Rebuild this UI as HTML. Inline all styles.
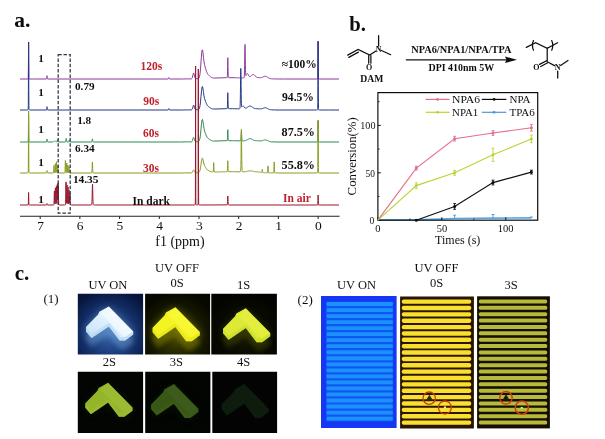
<!DOCTYPE html>
<html><head><meta charset="utf-8"><title>figure</title>
<style>
html,body{margin:0;padding:0;background:#fff;}
body{width:605px;height:439px;position:relative;overflow:hidden;font-family:"Liberation Serif",serif;}
text{font-family:"Liberation Serif",serif;}
</style></head><body>
<svg width="605" height="439" viewBox="0 0 605 439" style="position:absolute;left:0;top:0">
<defs>
<filter id="b1" x="-50%" y="-50%" width="200%" height="200%"><feGaussianBlur stdDeviation="1"/></filter>
<filter id="b2" x="-50%" y="-50%" width="200%" height="200%"><feGaussianBlur stdDeviation="2.2"/></filter>
<filter id="b4" x="-50%" y="-50%" width="200%" height="200%"><feGaussianBlur stdDeviation="4"/></filter>
<filter id="b07" x="-20%" y="-20%" width="140%" height="140%"><feGaussianBlur stdDeviation="0.7"/></filter>
<filter id="b05" x="-20%" y="-20%" width="140%" height="140%"><feGaussianBlur stdDeviation="0.5"/></filter>
<filter id="b03" x="-20%" y="-20%" width="140%" height="140%"><feGaussianBlur stdDeviation="0.35"/></filter>
<radialGradient id="gblue" gradientUnits="userSpaceOnUse" cx="110" cy="334" r="46"><stop offset="0" stop-color="#3e6cac"/><stop offset="0.3" stop-color="#234a8a"/><stop offset="0.65" stop-color="#122c62"/><stop offset="1" stop-color="#07133a"/></radialGradient>
<radialGradient id="gy0" gradientUnits="userSpaceOnUse" cx="177" cy="335" r="42"><stop offset="0" stop-color="#505000"/><stop offset="0.35" stop-color="#2c2e00"/><stop offset="0.7" stop-color="#141600"/><stop offset="1" stop-color="#070800"/></radialGradient>
<radialGradient id="gy1" gradientUnits="userSpaceOnUse" cx="246" cy="334" r="40"><stop offset="0" stop-color="#1a1e00"/><stop offset="0.5" stop-color="#0a0c00"/><stop offset="1" stop-color="#030400"/></radialGradient>
<linearGradient id="lgw" x1="0" y1="1" x2="1" y2="0"><stop offset="0" stop-color="#c2e0f8"/><stop offset="0.6" stop-color="#e6f4fe"/><stop offset="1" stop-color="#fbfdff"/></linearGradient>
</defs>
<g filter="url(#b03)">
<path d="M20.0 79.0L27.3 79.0L27.7 79.0L27.9 78.9L28.0 78.9L28.1 78.8L28.2 78.5L28.3 76.5L28.4 68.3L28.5 52.2L28.6 42.0L28.7 52.2L28.8 68.3L28.9 76.5L29.0 78.5L29.1 78.8L29.2 78.9L29.3 78.9L29.5 79.0L29.9 79.0L33.5 79.0L46.4 79.0L46.5 79.0L46.6 78.8L46.7 78.4L46.8 77.5L46.9 76.3L47.0 75.7L47.1 76.3L47.2 77.5L47.3 78.4L47.4 78.8L47.5 79.0L47.6 79.0L168.1 79.0L168.2 79.0L168.3 78.9L168.4 78.8L168.5 78.6L168.6 78.3L168.7 77.9L168.8 77.6L168.9 77.5L169.0 77.6L169.1 77.9L169.2 78.3L169.3 78.6L169.4 78.8L169.5 78.9L169.6 79.0L169.7 79.0L182.5 79.0L185.5 78.9L187.5 78.9L189.5 78.9L191.0 78.9L191.5 78.8L192.0 78.4L192.5 77.0L193.0 74.6L193.5 72.9L194.0 73.7L194.5 76.1L195.0 77.9L195.5 78.6L196.0 78.7L197.0 78.7L197.5 78.7L198.0 78.7L198.5 78.5L199.0 78.0L199.5 76.8L200.0 73.9L200.5 68.9L201.0 62.0L201.5 55.0L202.0 50.3L202.5 49.8L203.0 52.8L203.5 57.4L204.0 61.5L204.5 64.5L205.0 66.6L205.5 68.3L206.0 69.9L206.5 71.4L207.0 72.7L207.5 73.6L208.0 74.4L208.5 74.9L209.0 75.4L209.5 75.9L210.0 76.3L210.5 76.7L211.0 77.1L211.5 77.4L212.0 77.7L212.5 77.9L213.0 78.0L213.5 78.0L214.0 78.1L216.0 78.0L217.0 78.0L218.0 77.9L219.0 77.9L220.0 77.9L221.0 77.8L222.0 77.8L223.0 77.8L224.0 77.8L225.0 77.7L225.9 77.7L226.5 77.7L226.8 77.7L227.0 77.6L227.1 77.6L227.2 77.5L227.3 76.9L227.4 75.4L227.5 71.9L227.6 66.3L227.7 60.4L227.8 57.7L227.9 60.4L228.0 66.3L228.1 71.9L228.2 75.4L228.3 76.9L228.4 77.5L228.5 77.6L228.6 77.6L228.8 77.7L229.3 77.7L232.0 77.7L234.0 77.7L235.5 77.8L236.5 77.8L237.5 77.8L238.5 77.8L239.5 77.9L240.5 77.9L241.5 77.9L242.5 77.9L243.5 77.9L243.7 77.9L243.8 77.9L243.9 77.8L244.0 77.7L244.1 77.5L244.2 77.1L244.3 76.1L244.4 74.1L244.5 70.6L244.6 65.5L244.7 59.0L244.8 52.1L244.9 46.7L245.0 44.5L245.1 46.5L245.2 51.7L245.3 58.4L245.4 64.7L245.5 69.6L245.6 72.8L245.7 74.6L245.8 75.4L245.9 75.6L246.0 75.5L246.1 75.4L246.2 75.2L246.3 75.0L246.4 74.7L246.5 74.5L246.6 74.3L246.7 74.1L246.8 74.0L246.9 73.8L247.0 73.7L247.1 73.6L247.2 73.6L247.3 73.5L247.4 73.5L247.5 73.6L248.0 74.2L248.5 75.2L249.0 76.1L249.5 76.6L250.0 76.7L250.5 76.4L251.0 75.9L251.5 75.4L252.0 75.0L252.5 74.7L253.0 74.6L253.5 74.7L254.0 74.9L254.5 75.3L255.0 75.8L255.5 76.2L256.0 76.6L256.5 77.0L257.0 77.3L257.5 77.5L258.0 77.6L258.5 77.7L259.0 77.7L259.5 77.7L260.0 77.7L260.5 77.7L261.0 77.6L261.5 77.5L262.0 77.4L262.5 77.2L263.0 77.0L263.5 76.7L264.0 76.5L264.5 76.3L265.0 76.2L265.5 76.3L266.0 76.4L266.5 76.6L267.0 76.9L267.5 77.2L268.0 77.6L268.5 77.9L269.0 78.2L269.5 78.4L270.0 78.6L270.5 78.7L271.0 78.8L271.5 78.8L272.0 78.9L272.5 78.9L273.5 78.9L275.5 78.9L278.5 79.0L283.5 79.0L317.2 79.0L317.4 78.9L317.5 78.9L317.6 78.8L317.7 78.5L317.8 76.4L317.9 68.0L318.0 51.5L318.1 41.0L318.2 51.5L318.3 68.0L318.4 76.4L318.5 78.5L318.6 78.8L318.7 78.9L318.8 78.9L319.0 79.0L319.3 79.0L321.0 79.0L339.0 79.0" fill="none" stroke="#8a3a9a" stroke-width="1.00" stroke-linejoin="round"/>
<path d="M20.0 110.0L26.8 110.0L27.4 110.0L27.6 109.9L27.7 109.9L27.8 109.9L27.9 109.9L28.0 109.8L28.1 109.7L28.2 109.2L28.3 105.4L28.4 90.3L28.5 60.7L28.6 42.0L28.7 60.7L28.8 90.3L28.9 105.4L29.0 109.2L29.1 109.7L29.2 109.8L29.3 109.9L29.4 109.9L29.5 109.9L29.7 109.9L30.0 110.0L30.8 110.0L46.4 110.0L46.5 110.0L46.6 109.8L46.7 109.4L46.8 108.5L46.9 107.3L47.0 106.7L47.1 107.3L47.2 108.5L47.3 109.4L47.4 109.8L47.5 110.0L47.6 110.0L168.1 110.0L168.2 110.0L168.3 109.9L168.4 109.8L168.5 109.6L168.6 109.3L168.7 108.9L168.8 108.6L168.9 108.5L169.0 108.6L169.1 108.9L169.2 109.3L169.3 109.6L169.4 109.8L169.5 109.9L169.6 110.0L169.7 110.0L182.5 110.0L185.5 109.9L187.5 109.9L189.5 109.9L191.0 109.9L191.5 109.8L192.0 109.5L192.5 108.4L193.0 106.5L193.5 105.1L194.0 105.7L194.5 107.7L195.0 109.1L195.5 109.6L196.0 109.7L197.5 109.7L198.0 109.7L198.5 109.6L199.0 109.2L199.5 108.1L200.0 105.9L200.5 101.9L201.0 96.3L201.5 90.7L202.0 87.0L202.5 86.5L203.0 89.0L203.5 92.6L204.0 95.9L204.5 98.3L205.0 99.9L205.5 101.3L206.0 102.6L206.5 103.8L207.0 104.8L207.5 105.6L208.0 106.2L208.5 106.6L209.0 107.0L209.5 107.4L210.0 107.7L210.5 108.0L211.0 108.4L211.5 108.6L212.0 108.8L212.5 108.9L213.0 109.0L213.5 109.0L216.0 109.0L217.0 109.0L218.0 108.9L219.0 108.9L220.0 108.9L221.0 108.8L222.0 108.8L223.0 108.8L224.0 108.8L225.0 108.7L225.9 108.7L226.6 108.7L226.9 108.7L227.0 108.7L227.1 108.6L227.2 108.5L227.3 108.1L227.4 106.9L227.5 104.1L227.6 99.6L227.7 94.9L227.8 92.7L227.9 94.9L228.0 99.6L228.1 104.1L228.2 106.9L228.3 108.1L228.4 108.5L228.5 108.6L228.6 108.6L228.8 108.7L229.5 108.7L232.5 108.7L234.5 108.7L236.0 108.8L237.5 108.8L239.2 108.8L239.4 108.7L239.5 108.7L239.6 108.7L239.7 108.6L239.8 108.5L239.9 108.3L240.0 107.8L240.1 106.5L240.2 104.1L240.3 100.0L240.4 93.8L240.5 85.9L240.6 77.6L240.7 71.1L240.8 68.4L240.9 70.9L241.0 77.3L241.1 85.4L241.2 93.2L241.3 99.2L241.4 103.2L241.5 105.4L241.6 106.5L241.7 106.9L241.8 106.9L241.9 106.9L242.0 106.8L242.1 106.6L242.2 106.5L242.3 106.4L242.4 106.3L242.5 106.1L242.6 106.1L242.7 106.0L242.8 105.9L242.9 105.9L243.1 105.9L243.2 105.9L243.5 106.2L244.0 106.8L244.5 107.5L245.0 108.0L245.5 108.2L246.0 108.1L246.5 107.9L247.0 107.6L247.5 107.2L248.0 106.9L248.5 106.5L249.0 106.3L249.5 106.1L250.0 106.0L250.5 106.1L251.0 106.3L251.5 106.5L252.0 106.9L252.5 107.2L253.0 107.6L253.5 107.9L254.0 108.2L254.5 108.4L255.0 108.5L255.5 108.6L256.0 108.7L256.5 108.7L257.0 108.7L258.0 108.8L258.5 108.8L259.0 108.8L259.5 108.8L260.5 108.9L261.0 108.8L261.5 108.8L262.0 108.6L262.5 108.5L263.0 108.3L263.5 108.1L264.0 107.9L264.5 107.8L265.0 107.7L265.5 107.7L266.0 107.8L266.5 108.0L267.0 108.2L267.5 108.5L268.0 108.8L268.5 109.1L269.0 109.3L269.5 109.5L270.0 109.6L270.5 109.7L271.0 109.8L271.5 109.8L272.0 109.9L273.0 109.9L274.5 109.9L277.0 110.0L281.0 110.0L289.0 110.0L316.4 110.0L316.8 110.0L317.1 109.9L317.2 109.9L317.3 109.9L317.4 109.8L317.5 109.8L317.6 109.6L317.7 108.5L317.8 102.8L317.9 85.6L318.0 57.6L318.1 41.5L318.2 57.6L318.3 85.6L318.4 102.8L318.5 108.5L318.6 109.6L318.7 109.8L318.8 109.8L318.9 109.9L319.0 109.9L319.2 109.9L319.5 110.0L320.1 110.0L328.5 110.0L339.0 110.0" fill="none" stroke="#243a88" stroke-width="1.00" stroke-linejoin="round"/>
<path d="M20.0 142.0L27.5 142.0L27.9 141.9L28.0 141.9L28.1 141.9L28.2 141.7L28.3 140.2L28.4 134.2L28.5 122.4L28.6 115.0L28.7 122.4L28.8 134.2L28.9 140.2L29.0 141.7L29.1 141.9L29.2 141.9L29.4 142.0L29.8 142.0L46.3 142.0L46.4 142.0L46.5 141.9L46.6 141.7L46.7 141.1L46.8 140.3L46.9 139.4L47.0 139.0L47.1 139.4L47.2 140.3L47.3 141.1L47.4 141.7L47.5 141.9L47.6 142.0L47.7 142.0L52.5 142.0L52.7 141.9L52.8 141.9L52.9 141.9L53.0 141.9L53.1 141.8L53.2 141.8L53.3 141.7L53.4 141.6L53.5 141.6L53.6 141.5L53.7 141.4L53.8 141.4L53.9 141.3L54.0 141.2L54.1 141.1L54.2 141.1L54.3 141.0L54.4 141.0L54.6 141.0L54.7 141.0L54.8 141.1L54.9 141.1L55.0 141.2L55.1 141.3L55.2 141.4L55.3 141.4L55.4 141.5L55.5 141.6L55.6 141.6L55.7 141.7L55.8 141.8L55.9 141.8L56.0 141.8L56.1 141.9L56.2 141.9L56.3 141.9L56.5 142.0L56.7 141.9L56.8 141.9L56.9 141.8L57.0 141.6L57.1 141.3L57.2 140.8L57.3 140.2L57.4 139.7L57.5 139.5L57.6 139.7L57.7 140.2L57.8 140.8L57.9 141.3L58.0 141.6L58.1 141.8L58.2 141.9L58.3 142.0L58.5 142.0L65.3 142.0L65.4 142.0L65.5 141.9L65.6 141.8L65.7 141.5L65.8 141.0L65.9 140.2L66.0 139.4L66.1 138.7L66.2 138.4L66.3 138.7L66.4 139.4L66.5 140.2L66.6 141.0L66.7 141.5L66.8 141.8L66.9 141.9L67.0 142.0L67.1 142.0L68.5 142.0L68.6 141.9L68.7 141.9L68.8 141.7L68.9 141.4L69.0 141.0L69.1 140.5L69.2 140.2L69.3 140.0L69.4 140.2L69.5 140.5L69.6 141.0L69.7 141.4L69.8 141.7L69.9 141.9L70.0 141.9L70.1 142.0L70.6 142.0L91.6 142.0L91.7 141.9L91.8 141.8L91.9 141.5L92.0 141.1L92.1 140.4L92.2 139.7L92.3 139.1L92.4 138.8L92.5 139.1L92.6 139.7L92.7 140.4L92.8 141.1L92.9 141.5L93.0 141.8L93.1 141.9L93.2 142.0L93.4 142.0L180.5 142.0L184.0 141.9L186.5 141.9L188.5 141.9L190.0 141.9L191.0 141.9L191.5 141.8L192.0 141.5L192.5 140.5L193.0 138.6L193.5 137.3L194.0 137.9L194.5 139.8L195.0 141.1L195.5 141.7L196.0 141.8L197.5 141.7L198.0 141.7L198.5 141.6L199.0 141.2L199.5 140.2L200.0 138.0L200.5 134.2L201.0 128.9L201.5 123.5L202.0 119.9L202.5 119.5L203.0 121.8L203.5 125.3L204.0 128.5L204.5 130.8L205.0 132.3L205.5 133.7L206.0 134.9L206.5 136.1L207.0 137.0L207.5 137.7L208.0 138.3L208.5 138.7L209.0 139.1L209.5 139.4L210.0 139.8L210.5 140.1L211.0 140.4L211.5 140.6L212.0 140.8L212.5 140.9L213.0 141.0L213.5 141.1L216.0 141.0L217.0 141.0L218.0 140.9L219.0 140.9L220.0 140.9L221.0 140.8L222.0 140.8L223.0 140.8L224.0 140.8L225.0 140.7L226.0 140.7L226.7 140.7L227.0 140.7L227.1 140.7L227.2 140.6L227.3 140.3L227.4 139.4L227.5 137.5L227.6 134.5L227.7 131.2L227.8 129.7L227.9 131.2L228.0 134.5L228.1 137.5L228.2 139.4L228.3 140.3L228.4 140.6L228.5 140.6L228.6 140.7L229.1 140.7L232.5 140.7L234.5 140.7L236.0 140.8L237.0 140.8L238.0 140.8L238.9 140.8L239.9 140.9L240.5 140.8L240.6 140.8L240.7 140.6L240.8 140.2L240.9 139.4L241.0 138.0L241.1 136.0L241.2 133.7L241.3 131.7L241.4 130.9L241.5 131.7L241.6 133.7L241.7 136.0L241.8 138.0L241.9 139.5L242.0 140.3L242.1 140.7L242.2 140.8L242.3 140.9L242.4 140.9L242.7 140.9L243.8 140.9L244.0 140.9L244.5 140.8L245.0 140.7L245.5 140.6L246.0 140.4L246.5 140.2L247.0 139.9L247.5 139.6L248.0 139.3L248.5 139.0L249.0 138.8L249.5 138.7L250.0 138.6L250.5 138.7L251.0 138.8L251.5 139.0L252.0 139.3L252.5 139.6L253.0 139.9L253.5 140.1L254.0 140.3L254.5 140.5L255.0 140.6L255.5 140.7L256.0 140.7L256.5 140.7L257.5 140.8L258.0 140.8L258.5 140.8L259.0 140.8L259.5 140.8L260.0 140.9L261.0 140.9L261.5 140.8L262.0 140.7L262.5 140.6L263.0 140.4L263.5 140.2L264.0 140.1L264.5 140.0L265.0 139.9L265.5 139.9L266.0 140.0L266.5 140.2L267.0 140.4L267.5 140.6L268.0 140.9L268.5 141.1L269.0 141.3L269.5 141.5L270.0 141.6L270.5 141.7L271.0 141.8L271.5 141.9L272.0 141.9L273.0 141.9L274.5 141.9L277.0 142.0L281.0 142.0L289.0 142.0L317.3 142.0L317.5 141.9L317.6 141.9L317.7 141.7L317.8 140.6L317.9 135.9L318.0 126.8L318.1 121.0L318.2 126.8L318.3 135.9L318.4 140.6L318.5 141.7L318.6 141.9L318.7 141.9L318.9 142.0L319.5 142.0L339.0 142.0" fill="none" stroke="#2f8a55" stroke-width="1.00" stroke-linejoin="round"/>
<path d="M20.0 173.0L26.9 173.0L27.4 173.0L27.7 172.9L27.8 172.9L27.9 172.9L28.0 172.8L28.1 172.7L28.2 172.2L28.3 168.8L28.4 155.1L28.5 128.1L28.6 111.0L28.7 128.1L28.8 155.1L28.9 168.8L29.0 172.2L29.1 172.7L29.2 172.8L29.3 172.9L29.4 172.9L29.6 172.9L29.9 173.0L30.6 173.0L46.4 173.0L46.5 172.9L46.6 172.7L46.7 172.3L46.8 171.6L46.9 170.8L47.0 170.5L47.1 170.8L47.2 171.6L47.3 172.3L47.4 172.7L47.5 172.9L47.6 173.0L47.8 173.0L53.2 173.0L53.3 172.9L53.4 172.9L53.5 172.7L53.6 172.1L53.7 170.8L53.8 168.7L53.9 166.5L54.0 165.5L54.1 166.5L54.2 168.7L54.3 170.8L54.4 172.1L54.5 172.7L54.6 172.8L54.7 172.8L54.8 172.6L54.9 171.9L55.0 170.3L55.1 167.6L55.2 164.8L55.3 163.6L55.4 164.8L55.5 167.6L55.6 170.2L55.7 171.9L55.8 172.6L55.9 172.7L56.0 172.5L56.1 171.7L56.2 169.7L56.3 166.5L56.4 163.2L56.5 161.7L56.6 163.2L56.7 166.5L56.8 169.7L56.9 171.7L57.0 172.5L57.1 172.8L57.2 172.8L57.3 172.7L57.4 172.1L57.5 170.8L57.6 168.7L57.7 166.5L57.8 165.5L57.9 166.5L58.0 168.7L58.1 170.8L58.2 172.1L58.3 172.7L58.4 172.9L58.5 172.9L58.7 173.0L59.9 173.0L64.3 173.0L64.6 172.9L64.7 172.9L64.8 172.8L64.9 172.5L65.0 171.5L65.1 169.4L65.2 165.9L65.3 162.2L65.4 160.5L65.5 162.2L65.6 165.9L65.7 169.4L65.8 171.5L65.9 172.5L66.0 172.8L66.1 172.8L66.2 172.6L66.3 171.8L66.4 170.1L66.5 167.3L66.6 164.3L66.7 163.0L66.8 164.3L66.9 167.3L67.0 170.1L67.1 171.8L67.2 172.5L67.3 172.6L67.4 172.0L67.5 170.6L67.6 168.4L67.7 166.0L67.8 165.0L67.9 166.1L68.0 168.4L68.1 170.7L68.2 172.0L68.3 172.6L68.4 172.8L68.5 172.7L68.6 172.2L68.7 171.1L68.8 169.4L68.9 167.5L69.0 166.7L69.1 167.5L69.2 169.4L69.3 171.2L69.4 172.3L69.5 172.7L69.6 172.9L69.7 173.0L70.0 173.0L76.0 173.0L91.2 173.0L91.5 173.0L91.6 172.9L91.7 172.9L91.8 172.6L91.9 172.1L92.0 170.8L92.1 168.6L92.2 165.8L92.3 163.1L92.4 162.0L92.5 163.1L92.6 165.8L92.7 168.6L92.8 170.8L92.9 172.1L93.0 172.6L93.1 172.9L93.2 172.9L93.3 173.0L93.7 173.0L181.5 173.0L184.5 172.9L187.0 172.9L189.0 172.9L190.5 172.9L191.0 172.9L191.5 172.8L192.0 172.6L192.5 171.9L193.0 170.7L193.5 169.8L194.0 170.3L194.5 171.5L195.0 172.4L195.5 172.7L196.0 172.8L197.5 172.7L198.0 172.7L198.5 172.6L199.0 172.4L199.5 171.7L200.0 170.3L200.5 167.8L201.0 164.3L201.5 160.8L202.0 158.5L202.5 158.2L203.0 159.7L203.5 162.0L204.0 164.0L204.5 165.5L205.0 166.5L205.5 167.4L206.0 168.2L206.5 168.9L207.0 169.5L207.5 170.0L208.0 170.4L208.5 170.6L209.0 170.9L209.5 171.1L210.0 171.3L210.5 171.5L211.0 171.7L211.2 171.7L211.3 171.8L211.4 171.8L211.5 171.8L211.6 171.9L211.7 171.9L211.8 171.9L212.0 171.9L212.2 172.0L212.4 172.0L212.7 172.0L213.0 172.0L213.1 171.9L213.2 171.7L213.3 171.0L213.4 169.3L213.5 166.7L213.6 163.9L213.7 162.6L213.8 163.9L213.9 166.7L214.0 169.3L214.1 171.0L214.2 171.7L214.3 172.0L214.4 172.0L214.6 172.0L215.9 172.0L216.5 172.0L217.5 172.0L218.5 171.9L219.5 171.9L220.5 171.9L221.5 171.8L222.5 171.8L223.5 171.8L224.5 171.8L225.5 171.7L226.4 171.7L226.9 171.7L227.0 171.7L227.1 171.7L227.2 171.6L227.3 171.3L227.4 170.4L227.5 168.5L227.6 165.5L227.7 162.2L227.8 160.7L227.9 162.2L228.0 165.5L228.1 168.5L228.2 170.4L228.3 171.3L228.4 171.6L228.5 171.6L228.6 171.7L229.1 171.7L232.5 171.7L234.5 171.7L236.0 171.8L237.0 171.8L238.0 171.8L240.1 171.8L240.2 171.8L240.3 171.7L240.4 171.7L240.5 171.6L240.6 171.4L240.7 170.7L240.8 169.0L240.9 165.6L241.0 159.6L241.1 151.0L241.2 141.1L241.3 132.8L241.4 129.4L241.5 132.8L241.6 141.1L241.7 151.0L241.8 159.6L241.9 165.6L242.0 169.1L242.1 170.7L242.2 171.4L242.3 171.7L242.4 171.7L242.5 171.8L242.6 171.8L242.8 171.8L243.1 171.9L244.0 171.9L244.5 171.8L245.0 171.8L245.5 171.7L246.0 171.6L246.5 171.5L247.0 171.4L247.5 171.2L248.0 171.1L248.5 171.0L249.0 170.9L249.5 170.9L250.0 170.8L250.5 170.8L251.0 170.9L251.5 171.0L252.0 171.1L252.5 171.2L253.0 171.3L253.5 171.4L254.0 171.5L254.5 171.6L255.0 171.7L255.5 171.7L256.0 171.8L256.5 171.9L257.0 171.9L257.5 171.9L258.0 172.0L258.5 172.0L259.0 172.1L259.5 172.1L259.8 172.2L260.0 172.2L260.2 172.2L260.4 172.2L260.6 172.3L260.8 172.3L261.0 172.3L261.2 172.3L261.4 172.3L261.7 172.3L261.8 172.3L261.9 172.0L262.0 171.5L262.1 170.6L262.2 169.7L262.3 169.2L262.4 169.7L262.5 170.6L262.6 171.6L262.7 172.1L262.8 172.4L262.9 172.5L263.0 172.5L263.2 172.5L263.4 172.6L263.7 172.6L264.0 172.6L264.3 172.6L264.6 172.7L264.7 172.7L265.0 172.7L265.5 172.7L265.9 172.7L266.4 172.8L267.3 172.8L267.4 172.7L267.5 172.5L267.6 172.0L267.7 170.8L267.8 168.8L267.9 166.8L268.0 165.8L268.1 166.8L268.2 168.9L268.3 170.8L268.4 172.0L268.5 172.6L268.6 172.8L268.7 172.8L268.9 172.8L269.4 172.9L270.3 172.9L271.7 172.9L273.4 172.9L273.5 172.9L273.6 172.8L273.7 172.5L273.8 171.7L273.9 169.7L274.0 166.7L274.1 163.4L274.2 161.9L274.3 163.4L274.4 166.7L274.5 169.7L274.6 171.7L274.7 172.5L274.8 172.8L274.9 172.9L275.0 172.9L275.3 172.9L276.2 172.9L278.5 173.0L283.0 173.0L302.5 173.0L316.4 173.0L316.9 173.0L317.2 172.9L317.3 172.9L317.4 172.9L317.5 172.8L317.6 172.7L317.7 171.8L317.8 167.4L317.9 154.1L318.0 132.5L318.1 120.0L318.2 132.5L318.3 154.1L318.4 167.4L318.5 171.8L318.6 172.7L318.7 172.8L318.8 172.9L318.9 172.9L319.0 172.9L319.2 172.9L319.6 173.0L321.0 173.0L339.0 173.0" fill="none" stroke="#8a9a20" stroke-width="1.00" stroke-linejoin="round"/>
<path d="M20.0 205.0L27.9 205.0L28.1 204.9L28.2 204.8L28.3 204.2L28.4 201.4L28.5 195.9L28.6 192.5L28.7 195.9L28.8 201.4L28.9 204.2L29.0 204.8L29.1 204.9L29.3 205.0L30.2 205.0L46.4 205.0L46.5 204.9L46.6 204.8L46.7 204.6L46.8 204.1L46.9 203.7L47.0 203.5L47.1 203.7L47.2 204.1L47.3 204.6L47.4 204.8L47.5 204.9L47.6 205.0L53.3 205.0L53.6 204.9L53.7 204.9L53.8 204.8L53.9 204.4L54.0 203.3L54.1 200.9L54.2 197.0L54.3 192.8L54.4 190.9L54.5 192.8L54.6 197.0L54.7 200.8L54.8 203.1L54.9 203.8L55.0 202.8L55.1 200.0L55.2 195.2L55.3 190.2L55.4 187.9L55.5 190.2L55.6 195.2L55.7 199.9L55.8 202.8L55.9 203.6L56.0 202.5L56.1 199.4L56.2 194.1L56.3 188.5L56.4 185.9L56.5 188.5L56.6 194.1L56.7 199.3L56.8 202.5L56.9 203.4L57.0 202.3L57.1 198.8L57.2 192.9L57.3 186.7L57.4 183.9L57.5 186.7L57.6 192.7L57.7 198.1L57.8 200.0L57.9 197.8L58.0 192.2L58.1 185.8L58.2 182.9L58.3 185.9L58.4 192.4L58.5 198.6L58.6 202.4L58.7 204.1L58.8 204.7L58.9 204.8L59.0 204.9L59.1 204.9L59.3 204.9L59.7 205.0L61.0 205.0L64.5 205.0L64.9 204.9L65.1 204.9L65.2 204.9L65.3 204.8L65.4 204.7L65.5 204.1L65.6 202.3L65.7 198.3L65.8 191.9L65.9 185.1L66.0 181.9L66.1 185.0L66.2 191.8L66.3 198.2L66.4 202.1L66.5 203.3L66.6 202.4L66.7 199.1L66.8 193.5L66.9 187.6L67.0 184.9L67.1 187.6L67.2 193.5L67.3 199.1L67.4 202.4L67.5 203.5L67.6 202.6L67.7 199.6L67.8 194.6L67.9 189.3L68.0 186.9L68.1 189.3L68.2 194.7L68.3 199.7L68.4 202.7L68.5 203.7L68.6 203.0L68.7 200.5L68.8 196.4L68.9 191.9L69.0 189.9L69.1 191.9L69.2 196.4L69.3 200.5L69.4 202.8L69.5 203.0L69.6 201.3L69.7 198.1L69.8 194.6L69.9 192.9L70.0 194.6L70.1 198.1L70.2 201.5L70.3 203.6L70.4 204.5L70.5 204.8L70.6 204.9L70.7 204.9L71.0 205.0L71.7 205.0L91.0 205.0L91.3 204.9L91.4 204.9L91.5 204.9L91.6 204.8L91.7 204.6L91.8 204.2L91.9 203.2L92.0 201.3L92.1 198.2L92.2 194.0L92.3 189.3L92.4 185.5L92.5 184.0L92.6 185.5L92.7 189.3L92.8 194.0L92.9 198.2L93.0 201.3L93.1 203.2L93.2 204.2L93.3 204.6L93.4 204.8L93.5 204.9L93.6 204.9L93.8 204.9L94.2 205.0L95.5 205.0L194.2 205.0L194.6 204.9L194.8 204.9L194.9 204.9L195.0 204.8L195.1 204.8L195.2 204.6L195.3 204.2L195.4 196.8L195.5 139.0L195.6 66.0L195.7 139.0L195.8 196.7L195.8 202.8L195.9 204.2L195.9 204.5L196.0 204.6L196.1 204.7L196.1 204.8L196.2 204.8L196.2 204.8L196.2 204.8L196.3 204.9L196.4 204.9L196.7 204.9L197.5 204.9L197.6 204.9L197.7 204.9L197.8 204.8L197.8 204.8L197.8 204.8L197.9 204.7L197.9 204.6L198.0 204.5L198.1 204.2L198.2 196.9L198.2 140.5L198.3 69.0L198.4 140.5L198.5 178.5L198.6 196.9L198.7 204.2L198.8 204.6L198.8 204.8L198.9 204.8L199.0 204.9L199.1 204.9L199.2 204.9L199.3 204.9L199.7 205.0L200.3 205.0L227.0 204.9L227.1 204.9L227.2 204.7L227.3 204.2L227.4 203.2L227.5 201.4L227.6 199.1L227.7 196.9L227.8 196.0L227.9 196.9L228.0 199.1L228.1 201.4L228.2 203.2L228.3 204.2L228.4 204.7L228.5 204.9L228.6 204.9L228.8 205.0L229.8 205.0L317.4 205.0L317.5 205.0L317.6 204.9L317.7 204.5L317.8 203.3L317.9 200.5L318.0 196.9L318.1 195.0L318.2 196.9L318.3 200.5L318.4 203.3L318.5 204.5L318.6 204.9L318.7 205.0L318.9 205.0L320.2 205.0L339.0 205.0" fill="none" stroke="#98162a" stroke-width="1.00" stroke-linejoin="round"/>
</g>
<g filter="url(#b03)">
<line x1="20" y1="216.2" x2="339.5" y2="216.2" stroke="#222" stroke-width="1.05"/>
<line x1="318.1" y1="216.2" x2="318.1" y2="219" stroke="#222" stroke-width="1"/>
<line x1="278.4" y1="216.2" x2="278.4" y2="219" stroke="#222" stroke-width="1"/>
<line x1="238.7" y1="216.2" x2="238.7" y2="219" stroke="#222" stroke-width="1"/>
<line x1="199.0" y1="216.2" x2="199.0" y2="219" stroke="#222" stroke-width="1"/>
<line x1="159.3" y1="216.2" x2="159.3" y2="219" stroke="#222" stroke-width="1"/>
<line x1="119.6" y1="216.2" x2="119.6" y2="219" stroke="#222" stroke-width="1"/>
<line x1="79.9" y1="216.2" x2="79.9" y2="219" stroke="#222" stroke-width="1"/>
<line x1="40.2" y1="216.2" x2="40.2" y2="219" stroke="#222" stroke-width="1"/>
<rect x="58.2" y="54.6" width="12.0" height="158.6" fill="none" stroke="#2a3448" stroke-width="1.25" stroke-dasharray="3.5 1.8"/>
</g>
<g font-family="Liberation Serif, serif" filter="url(#b03)">
<text x="318.4" y="230.2" font-size="13.50" font-weight="normal" fill="#111" text-anchor="middle" >0</text>
<text x="278.7" y="230.2" font-size="13.50" font-weight="normal" fill="#111" text-anchor="middle" >1</text>
<text x="239.0" y="230.2" font-size="13.50" font-weight="normal" fill="#111" text-anchor="middle" >2</text>
<text x="199.3" y="230.2" font-size="13.50" font-weight="normal" fill="#111" text-anchor="middle" >3</text>
<text x="159.6" y="230.2" font-size="13.50" font-weight="normal" fill="#111" text-anchor="middle" >4</text>
<text x="119.9" y="230.2" font-size="13.50" font-weight="normal" fill="#111" text-anchor="middle" >5</text>
<text x="80.2" y="230.2" font-size="13.50" font-weight="normal" fill="#111" text-anchor="middle" >6</text>
<text x="40.5" y="230.2" font-size="13.50" font-weight="normal" fill="#111" text-anchor="middle" >7</text>
<text x="180.0" y="245.7" font-size="14.00" font-weight="normal" fill="#111" text-anchor="middle" >f1 (ppm)</text>
<text x="14.3" y="27.2" font-size="21.50" font-weight="bold" fill="#111" text-anchor="start" >a.</text>
<text x="349.3" y="31.0" font-size="20.70" font-weight="bold" fill="#111" text-anchor="start" >b.</text>
<text x="14.8" y="280.4" font-size="21.00" font-weight="bold" fill="#111" text-anchor="start" >c.</text>
<text x="151.3" y="70.0" font-size="11.50" font-weight="bold" fill="#c0202c" text-anchor="middle" >120s</text>
<text x="151.2" y="104.7" font-size="11.50" font-weight="bold" fill="#c0202c" text-anchor="middle" >90s</text>
<text x="151.0" y="137.0" font-size="11.50" font-weight="bold" fill="#c0202c" text-anchor="middle" >60s</text>
<text x="151.0" y="171.9" font-size="11.50" font-weight="bold" fill="#c0202c" text-anchor="middle" >30s</text>
<text x="151.3" y="204.6" font-size="11.50" font-weight="bold" fill="#111" text-anchor="middle" >In dark</text>
<text x="297.0" y="201.7" font-size="11.50" font-weight="bold" fill="#c0202c" text-anchor="middle" >In air</text>
<text x="299.3" y="67.6" font-size="11.50" font-weight="bold" fill="#111" text-anchor="middle" >≈100%</text>
<text x="282.0" y="101.0" font-size="11.50" font-weight="bold" fill="#111" text-anchor="start"  textLength="32.0" lengthAdjust="spacingAndGlyphs">94.5%</text>
<text x="281.6" y="135.5" font-size="11.50" font-weight="bold" fill="#111" text-anchor="start"  textLength="33.4" lengthAdjust="spacingAndGlyphs">87.5%</text>
<text x="281.6" y="169.4" font-size="11.50" font-weight="bold" fill="#111" text-anchor="start"  textLength="33.4" lengthAdjust="spacingAndGlyphs">55.8%</text>
<text x="41.0" y="62.4" font-size="11.20" font-weight="bold" fill="#111" text-anchor="middle" >1</text>
<text x="41.0" y="96.0" font-size="11.20" font-weight="bold" fill="#111" text-anchor="middle" >1</text>
<text x="41.0" y="133.0" font-size="11.20" font-weight="bold" fill="#111" text-anchor="middle" >1</text>
<text x="41.0" y="166.0" font-size="11.20" font-weight="bold" fill="#111" text-anchor="middle" >1</text>
<text x="41.0" y="202.9" font-size="11.20" font-weight="bold" fill="#111" text-anchor="middle" >1</text>
<text x="75.0" y="89.7" font-size="11.20" font-weight="bold" fill="#111" text-anchor="start" >0.79</text>
<text x="77.2" y="123.5" font-size="11.20" font-weight="bold" fill="#111" text-anchor="start" >1.8</text>
<text x="75.0" y="152.0" font-size="11.20" font-weight="bold" fill="#111" text-anchor="start" >6.34</text>
<text x="72.9" y="183.4" font-size="11.20" font-weight="bold" fill="#111" text-anchor="start"  textLength="25.6" lengthAdjust="spacingAndGlyphs">14.35</text>
</g>
<g stroke="#111" stroke-width="1.25" fill="none" stroke-linecap="round" filter="url(#b03)">
<path d="M347.7 55.1 L358.1 49.4 L369.7 55.1 L376 51"/>
<path d="M348.8 57.4 L358.4 52.1"/>
<path d="M368.7 55.5 L368.7 63.2 M370.9 55.5 L370.9 63.2"/>
<path d="M378.6 46 L378.6 35.5 M381.5 50.5 L390.6 54.7"/>
<path d="M406.3 59.8 L507 59.8" stroke-width="1.2"/>
<path d="M517 59.8 L505 56.6 L506.5 59.8 L505 63 Z" fill="#111" stroke="none"/>
<path d="M526.3 47.4 L535.6 42.7 L547.2 48.2 L557.6 42.7"/>
<path d="M533.5 40.6 Q531.3 45.3 533.5 50.2 M551.7 40.6 Q553.9 45.3 551.7 50.2"/>
<path d="M547.2 48.2 L547.2 61.7 L554.5 65.6"/>
<path d="M546.6 60.7 L539.6 64.4 M547.7 62.8 L540.7 66.5"/>
<path d="M560.6 65.5 L568 60.5 M557.7 71 L557.7 78"/>
</g>
<g font-family="Liberation Serif, serif" font-weight="bold" fill="#111" filter="url(#b03)">
<text x="411.2" y="53.2" font-size="9.80" font-weight="bold" fill="#111" text-anchor="start"  textLength="100.3" lengthAdjust="spacingAndGlyphs">NPA6/NPA1/NPA/TPA</text>
<text x="428.5" y="71.0" font-size="9.80" font-weight="bold" fill="#111" text-anchor="start"  textLength="65.6" lengthAdjust="spacingAndGlyphs">DPI 410nm 5W</text>
<text x="360.3" y="81.5" font-size="9.30" font-weight="bold" fill="#111" text-anchor="start"  textLength="23.0" lengthAdjust="spacingAndGlyphs">DAM</text>
<text x="378.6" y="52.3" font-size="8.00" font-weight="bold" fill="#111" text-anchor="middle" >N</text>
<text x="369.1" y="69.8" font-size="8.00" font-weight="bold" fill="#111" text-anchor="middle" >O</text>
<text x="557.7" y="70.3" font-size="8.00" font-weight="bold" fill="#111" text-anchor="middle" >N</text>
<text x="536.3" y="69.6" font-size="8.00" font-weight="bold" fill="#111" text-anchor="middle" >O</text>
</g>
<g filter="url(#b03)">
<path d="M377.9 219.9 L416.3 219.9 L454.6 218.5 L493.0 218.1 L531.4 217.9" stroke="#58a8e8" stroke-width="1.6" fill="none"/>
<path d="M454.6 218.5 L454.6 215.2 M453.1 215.2 L456.1 215.2" stroke="#4898e0" stroke-width="0.9" fill="none"/>
<path d="M493.0 218.1 L493.0 214.5 M491.5 214.5 L494.5 214.5" stroke="#4898e0" stroke-width="0.9" fill="none"/>
<path d="M531.4 217.9 L531.4 217.0 M529.9 217.0 L532.9 217.0" stroke="#4898e0" stroke-width="0.9" fill="none"/>
<rect x="377.9" y="92.6" width="159.8" height="127.6" fill="none" stroke="#111" stroke-width="1.2"/>
<line x1="377.9" y1="220.2" x2="380.8" y2="220.2" stroke="#111" stroke-width="1"/>
<line x1="377.9" y1="172.8" x2="380.8" y2="172.8" stroke="#111" stroke-width="1"/>
<line x1="377.9" y1="125.4" x2="380.8" y2="125.4" stroke="#111" stroke-width="1"/>
<line x1="377.9" y1="220.2" x2="377.9" y2="217.3" stroke="#111" stroke-width="1"/>
<line x1="441.8" y1="220.2" x2="441.8" y2="217.3" stroke="#111" stroke-width="1"/>
<line x1="505.8" y1="220.2" x2="505.8" y2="217.3" stroke="#111" stroke-width="1"/>
<line x1="409.9" y1="220.2" x2="409.9" y2="218.5" stroke="#111" stroke-width="0.8"/>
<line x1="473.8" y1="220.2" x2="473.8" y2="218.5" stroke="#111" stroke-width="0.8"/>
<line x1="377.9" y1="196.5" x2="379.6" y2="196.5" stroke="#111" stroke-width="0.8"/>
<line x1="377.9" y1="149.1" x2="379.6" y2="149.1" stroke="#111" stroke-width="0.8"/>
<line x1="377.9" y1="101.7" x2="379.6" y2="101.7" stroke="#111" stroke-width="0.8"/>
<path d="M377.9 220.2 L416.3 168.1 L454.6 138.7 L493.0 133.0 L531.4 127.7" stroke="#e3708f" stroke-width="1.12" fill="none"/>
<path d="M416.3 170.0 L416.3 166.2 M414.9 166.2 L417.7 166.2 M414.9 170.0 L417.7 170.0" stroke="#e3708f" stroke-width="0.9" fill="none"/>
<circle cx="416.3" cy="168.1" r="1.5" fill="#e3708f"/>
<path d="M454.6 141.0 L454.6 136.3 M453.2 136.3 L456.0 136.3 M453.2 141.0 L456.0 141.0" stroke="#e3708f" stroke-width="0.9" fill="none"/>
<circle cx="454.6" cy="138.7" r="1.5" fill="#e3708f"/>
<path d="M493.0 135.4 L493.0 130.6 M491.6 130.6 L494.4 130.6 M491.6 135.4 L494.4 135.4" stroke="#e3708f" stroke-width="0.9" fill="none"/>
<circle cx="493.0" cy="133.0" r="1.5" fill="#e3708f"/>
<path d="M531.4 131.0 L531.4 124.4 M530.0 124.4 L532.8 124.4 M530.0 131.0 L532.8 131.0" stroke="#e3708f" stroke-width="0.9" fill="none"/>
<circle cx="531.4" cy="127.7" r="1.5" fill="#e3708f"/>
<path d="M377.9 220.2 L416.3 185.6 L454.6 172.8 L493.0 154.8 L531.4 139.0" stroke="#bad434" stroke-width="1.12" fill="none"/>
<path d="M416.3 188.4 L416.3 182.8 M414.9 182.8 L417.7 182.8 M414.9 188.4 L417.7 188.4" stroke="#bad434" stroke-width="0.9" fill="none"/>
<circle cx="416.3" cy="185.6" r="1.5" fill="#bad434"/>
<path d="M454.6 175.2 L454.6 170.4 M453.2 170.4 L456.0 170.4 M453.2 175.2 L456.0 175.2" stroke="#bad434" stroke-width="0.9" fill="none"/>
<circle cx="454.6" cy="172.8" r="1.5" fill="#bad434"/>
<path d="M493.0 161.4 L493.0 148.2 M491.6 148.2 L494.4 148.2 M491.6 161.4 L494.4 161.4" stroke="#bad434" stroke-width="0.9" fill="none"/>
<circle cx="493.0" cy="154.8" r="1.5" fill="#bad434"/>
<path d="M531.4 142.7 L531.4 135.2 M530.0 135.2 L532.8 135.2 M530.0 142.7 L532.8 142.7" stroke="#bad434" stroke-width="0.9" fill="none"/>
<circle cx="531.4" cy="139.0" r="1.5" fill="#bad434"/>
<path d="M416.3 220.2 L454.6 206.5 L493.0 182.6 L531.4 172.1" stroke="#111111" stroke-width="1.12" fill="none"/>
<circle cx="416.3" cy="220.2" r="1.5" fill="#111111"/>
<path d="M454.6 209.3 L454.6 203.6 M453.2 203.6 L456.0 203.6 M453.2 209.3 L456.0 209.3" stroke="#111111" stroke-width="0.9" fill="none"/>
<circle cx="454.6" cy="206.5" r="1.5" fill="#111111"/>
<path d="M493.0 184.9 L493.0 180.2 M491.6 180.2 L494.4 180.2 M491.6 184.9 L494.4 184.9" stroke="#111111" stroke-width="0.9" fill="none"/>
<circle cx="493.0" cy="182.6" r="1.5" fill="#111111"/>
<path d="M531.4 174.0 L531.4 170.2 M530.0 170.2 L532.8 170.2 M530.0 174.0 L532.8 174.0" stroke="#111111" stroke-width="0.9" fill="none"/>
<circle cx="531.4" cy="172.1" r="1.5" fill="#111111"/>
<line x1="425.6" y1="99.4" x2="449.6" y2="99.4" stroke="#e3708f" stroke-width="1.2"/>
<circle cx="437.6" cy="99.4" r="1.4" fill="#e3708f"/>
<line x1="425.6" y1="112.3" x2="449.6" y2="112.3" stroke="#bad434" stroke-width="1.2"/>
<circle cx="437.6" cy="112.3" r="1.4" fill="#bad434"/>
<line x1="481.8" y1="99.4" x2="506.4" y2="99.4" stroke="#111" stroke-width="1.2"/>
<circle cx="494.1" cy="99.4" r="1.4" fill="#111"/>
<line x1="481.8" y1="112.3" x2="506.4" y2="112.3" stroke="#4898e0" stroke-width="1.2"/>
<circle cx="494.1" cy="112.3" r="1.4" fill="#4898e0"/>
</g>
<g font-family="Liberation Serif, serif" fill="#111" filter="url(#b03)">
<text x="452.0" y="103.0" font-size="11.00" font-weight="normal" fill="#111" text-anchor="start"  textLength="28.0" lengthAdjust="spacingAndGlyphs">NPA6</text>
<text x="452.0" y="115.8" font-size="11.00" font-weight="normal" fill="#111" text-anchor="start"  textLength="26.3" lengthAdjust="spacingAndGlyphs">NPA1</text>
<text x="509.5" y="103.0" font-size="11.00" font-weight="normal" fill="#111" text-anchor="start" >NPA</text>
<text x="509.5" y="115.8" font-size="11.00" font-weight="normal" fill="#111" text-anchor="start" >TPA6</text>
<text x="360.3" y="129.0" font-size="10.50" font-weight="normal" fill="#111" text-anchor="start"  textLength="15.2" lengthAdjust="spacingAndGlyphs">100</text>
<text x="365.6" y="176.5" font-size="10.50" font-weight="normal" fill="#111" text-anchor="start"  textLength="9.4" lengthAdjust="spacingAndGlyphs">50</text>
<text x="369.6" y="223.8" font-size="10.50" font-weight="normal" fill="#111" text-anchor="start"  textLength="4.8" lengthAdjust="spacingAndGlyphs">0</text>
<text x="377.9" y="231.8" font-size="10.50" font-weight="normal" fill="#111" text-anchor="middle" >0</text>
<text x="441.9" y="231.8" font-size="10.50" font-weight="normal" fill="#111" text-anchor="middle" >50</text>
<text x="505.6" y="231.8" font-size="10.50" font-weight="normal" fill="#111" text-anchor="middle" >100</text>
<text x="457.7" y="243.6" font-size="12.00" font-weight="normal" fill="#111" text-anchor="middle" >Times (s)</text>
<text transform="translate(356.2 156.3) rotate(-90)" font-size="12.8" text-anchor="middle">Conversion(%)</text>
</g>
<g font-family="Liberation Serif, serif" fill="#111" filter="url(#b03)">
<text x="51.1" y="303.4" font-size="13.00" font-weight="normal" fill="#111" text-anchor="middle" >(1)</text>
<text x="305.2" y="303.9" font-size="13.00" font-weight="normal" fill="#111" text-anchor="middle" >(2)</text>
<text x="107.9" y="288.5" font-size="12.50" font-weight="normal" fill="#111" text-anchor="middle" >UV ON</text>
<text x="177.0" y="272.0" font-size="12.50" font-weight="normal" fill="#111" text-anchor="middle" >UV OFF</text>
<text x="177.0" y="287.4" font-size="12.50" font-weight="normal" fill="#111" text-anchor="middle" >0S</text>
<text x="243.5" y="288.8" font-size="12.50" font-weight="normal" fill="#111" text-anchor="middle" >1S</text>
<text x="109.3" y="365.8" font-size="12.50" font-weight="normal" fill="#111" text-anchor="middle" >2S</text>
<text x="176.4" y="365.8" font-size="12.50" font-weight="normal" fill="#111" text-anchor="middle" >3S</text>
<text x="243.5" y="365.8" font-size="12.50" font-weight="normal" fill="#111" text-anchor="middle" >4S</text>
<text x="356.6" y="288.5" font-size="12.50" font-weight="normal" fill="#111" text-anchor="middle" >UV ON</text>
<text x="436.5" y="272.0" font-size="12.50" font-weight="normal" fill="#111" text-anchor="middle" >UV OFF</text>
<text x="436.6" y="287.3" font-size="12.50" font-weight="normal" fill="#111" text-anchor="middle" >0S</text>
<text x="511.1" y="288.8" font-size="12.50" font-weight="normal" fill="#111" text-anchor="middle" >3S</text>
</g>
<svg x="77.8" y="293.8" width="65.3" height="60.6" viewBox="77.8 293.8 65.3 60.6" overflow="hidden">
<rect x="76.8" y="292.8" width="67.3" height="62.6" fill="url(#gblue)"/>
<polygon points="108.8,307.6 99.3,312.8 98.1,315.6 86.0,328.1 86.0,332.6 91.6,339.1 108.8,327.4 119.6,341.6 125.1,341.6 133.2,335.5 133.2,332.4" fill="#8cbcf0" opacity="0.45" filter="url(#b4)"/>
<polygon points="108.8,315.6 99.3,320.8 98.1,323.6 86.0,336.1 86.0,340.6 91.6,347.1 108.8,335.4 119.6,349.6 125.1,349.6 133.2,343.5 133.2,340.4" fill="#6c9cd4" opacity="0.40" filter="url(#b2)"/>
<g filter="url(#b07)">
<polygon points="108.8,306.6 99.3,311.8 98.1,314.6 86.0,327.1 86.0,331.6 91.6,338.1 108.8,326.4 119.6,340.6 125.1,340.6 133.2,334.5 133.2,331.4" fill="url(#lgw)"/>
<polygon points="108.8,306.6 133.2,331.4 124.8,336.9 100.8,313.6" fill="#ffffff" opacity="0.45"/>
<polygon points="108.8,326.4 119.6,340.6 125.1,340.6 133.2,334.5 133.2,331.4 124.8,336.9 120.1,336.9 109.3,322.8" fill="#b0d4f2" opacity="0.6"/>
<polygon points="86.0,327.1 86.0,331.6 91.6,338.1 108.8,326.4 109.3,322.8 91.3,334.2" fill="#b0d4f2" opacity="0.6"/>
</g>
</svg>
<svg x="145.1" y="293.8" width="65.0" height="60.6" viewBox="145.1 293.8 65.0 60.6" overflow="hidden">
<rect x="144.1" y="292.8" width="67.0" height="62.6" fill="url(#gy0)"/>
<polygon points="175.4,308.3 165.9,313.5 164.7,316.3 152.6,328.8 152.6,333.3 158.2,339.8 175.4,328.1 186.2,342.3 191.7,342.3 199.8,336.2 199.8,333.1" fill="#b0b000" opacity="0.45" filter="url(#b4)"/>
<polygon points="175.4,316.3 165.9,321.5 164.7,324.3 152.6,336.8 152.6,341.3 158.2,347.8 175.4,336.1 186.2,350.3 191.7,350.3 199.8,344.2 199.8,341.1" fill="#7c7c00" opacity="0.50" filter="url(#b2)"/>
<g filter="url(#b07)">
<polygon points="175.4,307.3 165.9,312.5 164.7,315.3 152.6,327.8 152.6,332.3 158.2,338.8 175.4,327.1 186.2,341.3 191.7,341.3 199.8,335.2 199.8,332.1" fill="#f4f424"/>
<polygon points="175.4,307.3 199.8,332.1 191.4,337.6 167.4,314.3" fill="#fafa48" opacity="0.45"/>
<polygon points="175.4,327.1 186.2,341.3 191.7,341.3 199.8,335.2 199.8,332.1 191.4,337.6 186.7,337.6 175.9,323.5" fill="#e4e018" opacity="0.6"/>
<polygon points="152.6,327.8 152.6,332.3 158.2,338.8 175.4,327.1 175.9,323.5 157.9,334.9" fill="#e4e018" opacity="0.6"/>
</g>
</svg>
<svg x="211.3" y="293.8" width="65.6" height="60.6" viewBox="211.3 293.8 65.6 60.6" overflow="hidden">
<rect x="210.3" y="292.8" width="67.6" height="62.6" fill="url(#gy1)"/>
<polygon points="245.8,309.3 236.3,314.5 235.1,317.3 223.0,329.8 223.0,334.3 228.6,340.8 245.8,329.1 256.6,343.3 262.1,343.3 270.2,337.2 270.2,334.1" fill="#6c7800" opacity="0.30" filter="url(#b4)"/>
<polygon points="245.8,317.3 236.3,322.5 235.1,325.3 223.0,337.8 223.0,342.3 228.6,348.8 245.8,337.1 256.6,351.3 262.1,351.3 270.2,345.2 270.2,342.1" fill="#485000" opacity="0.40" filter="url(#b2)"/>
<g filter="url(#b07)">
<polygon points="245.8,308.3 236.3,313.5 235.1,316.3 223.0,328.8 223.0,333.3 228.6,339.8 245.8,328.1 256.6,342.3 262.1,342.3 270.2,336.2 270.2,333.1" fill="#dcea36"/>
<polygon points="245.8,308.3 270.2,333.1 261.8,338.6 237.8,315.3" fill="#e8f244" opacity="0.45"/>
<polygon points="245.8,328.1 256.6,342.3 262.1,342.3 270.2,336.2 270.2,333.1 261.8,338.6 257.1,338.6 246.3,324.5" fill="#c4d82c" opacity="0.6"/>
<polygon points="223.0,328.8 223.0,333.3 228.6,339.8 245.8,328.1 246.3,324.5 228.3,335.9" fill="#c4d82c" opacity="0.6"/>
</g>
</svg>
<svg x="77.8" y="371.8" width="65.3" height="61.2" viewBox="77.8 371.8 65.3 61.2" overflow="hidden">
<rect x="76.8" y="370.8" width="67.3" height="63.2" fill="#030503"/>
<polygon points="108.1,383.8 98.6,389.0 97.4,391.8 85.3,404.3 85.3,408.8 90.9,415.3 108.1,403.6 118.9,417.8 124.4,417.8 132.5,411.7 132.5,408.6" fill="#2c3808" opacity="0.28" filter="url(#b4)"/>
<g filter="url(#b07)">
<polygon points="108.1,382.8 98.6,388.0 97.4,390.8 85.3,403.3 85.3,407.8 90.9,414.3 108.1,402.6 118.9,416.8 124.4,416.8 132.5,410.7 132.5,407.6" fill="#94b42c"/>
<polygon points="108.1,382.8 132.5,407.6 124.1,413.1 100.1,389.8" fill="#a4c438" opacity="0.45"/>
<polygon points="108.1,402.6 118.9,416.8 124.4,416.8 132.5,410.7 132.5,407.6 124.1,413.1 119.4,413.1 108.6,399.0" fill="#9cbe34" opacity="0.6"/>
<polygon points="85.3,403.3 85.3,407.8 90.9,414.3 108.1,402.6 108.6,399.0 90.6,410.4" fill="#9cbe34" opacity="0.6"/>
</g>
</svg>
<svg x="145.2" y="371.8" width="65.2" height="61.2" viewBox="145.2 371.8 65.2 61.2" overflow="hidden">
<rect x="144.2" y="370.8" width="67.2" height="63.2" fill="#030503"/>
<polygon points="173.9,385.0 164.4,390.2 163.2,393.0 151.1,405.5 151.1,410.0 156.7,416.5 173.9,404.8 184.7,419.0 190.2,419.0 198.3,412.9 198.3,409.8" fill="#101a06" opacity="0.50" filter="url(#b4)"/>
<g filter="url(#b07)">
<polygon points="173.9,384.0 164.4,389.2 163.2,392.0 151.1,404.5 151.1,409.0 156.7,415.5 173.9,403.8 184.7,418.0 190.2,418.0 198.3,411.9 198.3,408.8" fill="#385618"/>
<polygon points="173.9,384.0 198.3,408.8 189.9,414.3 165.9,391.0" fill="#42641c" opacity="0.45"/>
<polygon points="173.9,403.8 184.7,418.0 190.2,418.0 198.3,411.9 198.3,408.8 189.9,414.3 185.2,414.3 174.4,400.2" fill="#3e5e1a" opacity="0.6"/>
<polygon points="151.1,404.5 151.1,409.0 156.7,415.5 173.9,403.8 174.4,400.2 156.4,411.6" fill="#3e5e1a" opacity="0.6"/>
</g>
</svg>
<svg x="212.3" y="371.8" width="64.8" height="61.2" viewBox="212.3 371.8 64.8 61.2" overflow="hidden">
<rect x="211.3" y="370.8" width="66.8" height="63.2" fill="#020302"/>
<g filter="url(#b07)">
<polygon points="244.3,384.0 234.8,389.2 233.6,392.0 221.5,404.5 221.5,409.0 227.1,415.5 244.3,403.8 255.1,418.0 260.6,418.0 268.7,411.9 268.7,408.8" fill="#0b1b0c"/>
<polygon points="244.3,384.0 268.7,408.8 260.3,414.3 236.3,391.0" fill="#0d200d" opacity="0.45"/>
<polygon points="244.3,403.8 255.1,418.0 260.6,418.0 268.7,411.9 268.7,408.8 260.3,414.3 255.6,414.3 244.8,400.2" fill="#0c1e0c" opacity="0.6"/>
<polygon points="221.5,404.5 221.5,409.0 227.1,415.5 244.3,403.8 244.8,400.2 226.8,411.6" fill="#0c1e0c" opacity="0.6"/>
</g>
</svg>
<g filter="url(#b05)">
<rect x="321" y="296" width="75.6" height="132" fill="#1236f4"/>
<rect x="326" y="301.5" width="67.4" height="120" fill="#1058f4"/>
<rect x="326.6" y="302.10" width="66.2" height="3.8" rx="1.2" fill="#1c90fc"/>
<rect x="326.6" y="308.13" width="66.2" height="3.8" rx="1.2" fill="#1c90fc"/>
<rect x="326.6" y="314.16" width="66.2" height="3.8" rx="1.2" fill="#1c90fc"/>
<rect x="326.6" y="320.19" width="66.2" height="3.8" rx="1.2" fill="#1c90fc"/>
<rect x="326.6" y="326.22" width="66.2" height="3.8" rx="1.2" fill="#1c90fc"/>
<rect x="326.6" y="332.25" width="66.2" height="3.8" rx="1.2" fill="#1c90fc"/>
<rect x="326.6" y="338.28" width="66.2" height="3.8" rx="1.2" fill="#1c90fc"/>
<rect x="326.6" y="344.31" width="66.2" height="3.8" rx="1.2" fill="#1c90fc"/>
<rect x="326.6" y="350.34" width="66.2" height="3.8" rx="1.2" fill="#1c90fc"/>
<rect x="326.6" y="356.37" width="66.2" height="3.8" rx="1.2" fill="#1c90fc"/>
<rect x="326.6" y="362.40" width="66.2" height="3.8" rx="1.2" fill="#1c90fc"/>
<rect x="326.6" y="368.43" width="66.2" height="3.8" rx="1.2" fill="#1c90fc"/>
<rect x="326.6" y="374.46" width="66.2" height="3.8" rx="1.2" fill="#1c90fc"/>
<rect x="326.6" y="380.49" width="66.2" height="3.8" rx="1.2" fill="#1c90fc"/>
<rect x="326.6" y="386.52" width="66.2" height="3.8" rx="1.2" fill="#1c90fc"/>
<rect x="326.6" y="392.55" width="66.2" height="3.8" rx="1.2" fill="#1c90fc"/>
<rect x="326.6" y="398.58" width="66.2" height="3.8" rx="1.2" fill="#1c90fc"/>
<rect x="326.6" y="404.61" width="66.2" height="3.8" rx="1.2" fill="#1c90fc"/>
<rect x="326.6" y="410.64" width="66.2" height="3.8" rx="1.2" fill="#1c90fc"/>
<rect x="326.6" y="416.67" width="66.2" height="3.8" rx="1.2" fill="#1c90fc"/>
</g>
<g filter="url(#b05)">
<rect x="400.1" y="296.5" width="73.8" height="132" fill="#2a1402"/>
<rect x="401.8" y="299.40" width="69.4" height="4.4" rx="1.8" fill="#fae02e"/>
<rect x="401.8" y="305.77" width="69.4" height="4.4" rx="1.8" fill="#fae02e"/>
<rect x="401.8" y="312.14" width="69.4" height="4.4" rx="1.8" fill="#fae02e"/>
<rect x="401.8" y="318.51" width="69.4" height="4.4" rx="1.8" fill="#fae02e"/>
<rect x="401.8" y="324.88" width="69.4" height="4.4" rx="1.8" fill="#fae02e"/>
<rect x="401.8" y="331.25" width="69.4" height="4.4" rx="1.8" fill="#fae02e"/>
<rect x="401.8" y="337.62" width="69.4" height="4.4" rx="1.8" fill="#fae02e"/>
<rect x="401.8" y="343.99" width="69.4" height="4.4" rx="1.8" fill="#fae02e"/>
<rect x="401.8" y="350.36" width="69.4" height="4.4" rx="1.8" fill="#fae02e"/>
<rect x="401.8" y="356.73" width="69.4" height="4.4" rx="1.8" fill="#fae02e"/>
<rect x="401.8" y="363.10" width="69.4" height="4.4" rx="1.8" fill="#fae02e"/>
<rect x="401.8" y="369.47" width="69.4" height="4.4" rx="1.8" fill="#fae02e"/>
<rect x="401.8" y="375.84" width="69.4" height="4.4" rx="1.8" fill="#fae02e"/>
<rect x="401.8" y="382.21" width="69.4" height="4.4" rx="1.8" fill="#fae02e"/>
<rect x="401.8" y="388.58" width="69.4" height="4.4" rx="1.8" fill="#fae02e"/>
<rect x="401.8" y="394.95" width="69.4" height="4.4" rx="1.8" fill="#fae02e"/>
<rect x="401.8" y="401.32" width="69.4" height="4.4" rx="1.8" fill="#fae02e"/>
<rect x="401.8" y="407.69" width="69.4" height="4.4" rx="1.8" fill="#fae02e"/>
<rect x="401.8" y="414.06" width="69.4" height="4.4" rx="1.8" fill="#fae02e"/>
<rect x="401.8" y="420.43" width="69.4" height="4.4" rx="1.8" fill="#fae02e"/>
<path d="M429.4 394.8 L433 400.4 L425.8 400.4 Z" fill="#2a2a10"/>
<circle cx="445" cy="407.3" r="1" fill="#ffffc0"/>
<circle cx="429.2" cy="398.2" r="6.2" fill="none" stroke="#c43c14" stroke-width="1.3"/>
<circle cx="444.9" cy="407.5" r="6.5" fill="none" stroke="#c43c14" stroke-width="1.3"/>
</g>
<g filter="url(#b05)">
<rect x="477.1" y="296.3" width="72.8" height="132.1" fill="#120a00"/>
<rect x="478.8" y="299.40" width="68.4" height="4.0" rx="1.6" fill="#b6ba3a"/>
<rect x="478.8" y="305.77" width="68.4" height="4.0" rx="1.6" fill="#b6ba3a"/>
<rect x="478.8" y="312.15" width="68.4" height="4.0" rx="1.6" fill="#b6ba3a"/>
<rect x="478.8" y="318.52" width="68.4" height="4.0" rx="1.6" fill="#b6ba3a"/>
<rect x="478.8" y="324.90" width="68.4" height="4.0" rx="1.6" fill="#b6ba3a"/>
<rect x="478.8" y="331.27" width="68.4" height="4.0" rx="1.6" fill="#b6ba3a"/>
<rect x="478.8" y="337.65" width="68.4" height="4.0" rx="1.6" fill="#b6ba3a"/>
<rect x="478.8" y="344.02" width="68.4" height="4.0" rx="1.6" fill="#b6ba3a"/>
<rect x="478.8" y="350.40" width="68.4" height="4.0" rx="1.6" fill="#b6ba3a"/>
<rect x="478.8" y="356.77" width="68.4" height="4.0" rx="1.6" fill="#b6ba3a"/>
<rect x="478.8" y="363.15" width="68.4" height="4.0" rx="1.6" fill="#b6ba3a"/>
<rect x="478.8" y="369.52" width="68.4" height="4.0" rx="1.6" fill="#b6ba3a"/>
<rect x="478.8" y="375.90" width="68.4" height="4.0" rx="1.6" fill="#b6ba3a"/>
<rect x="478.8" y="382.27" width="68.4" height="4.0" rx="1.6" fill="#b6ba3a"/>
<rect x="478.8" y="388.65" width="68.4" height="4.0" rx="1.6" fill="#b6ba3a"/>
<rect x="478.8" y="395.02" width="68.4" height="4.0" rx="1.6" fill="#b6ba3a"/>
<rect x="478.8" y="401.40" width="68.4" height="4.0" rx="1.6" fill="#b6ba3a"/>
<rect x="478.8" y="407.77" width="68.4" height="4.0" rx="1.6" fill="#b6ba3a"/>
<rect x="478.8" y="414.15" width="68.4" height="4.0" rx="1.6" fill="#b6ba3a"/>
<rect x="478.8" y="420.52" width="68.4" height="4.0" rx="1.6" fill="#b6ba3a"/>
<path d="M506 394.3 L509.8 400.4 L502.2 400.4 Z" fill="#141c0c"/>
<circle cx="521.8" cy="408" r="1.3" fill="#c8e850"/>
<circle cx="506" cy="397.8" r="6.2" fill="none" stroke="#d03c14" stroke-width="1.5"/>
<circle cx="521.8" cy="407.7" r="6.6" fill="none" stroke="#d03c14" stroke-width="1.5"/>
</g>
</svg>
</body></html>
